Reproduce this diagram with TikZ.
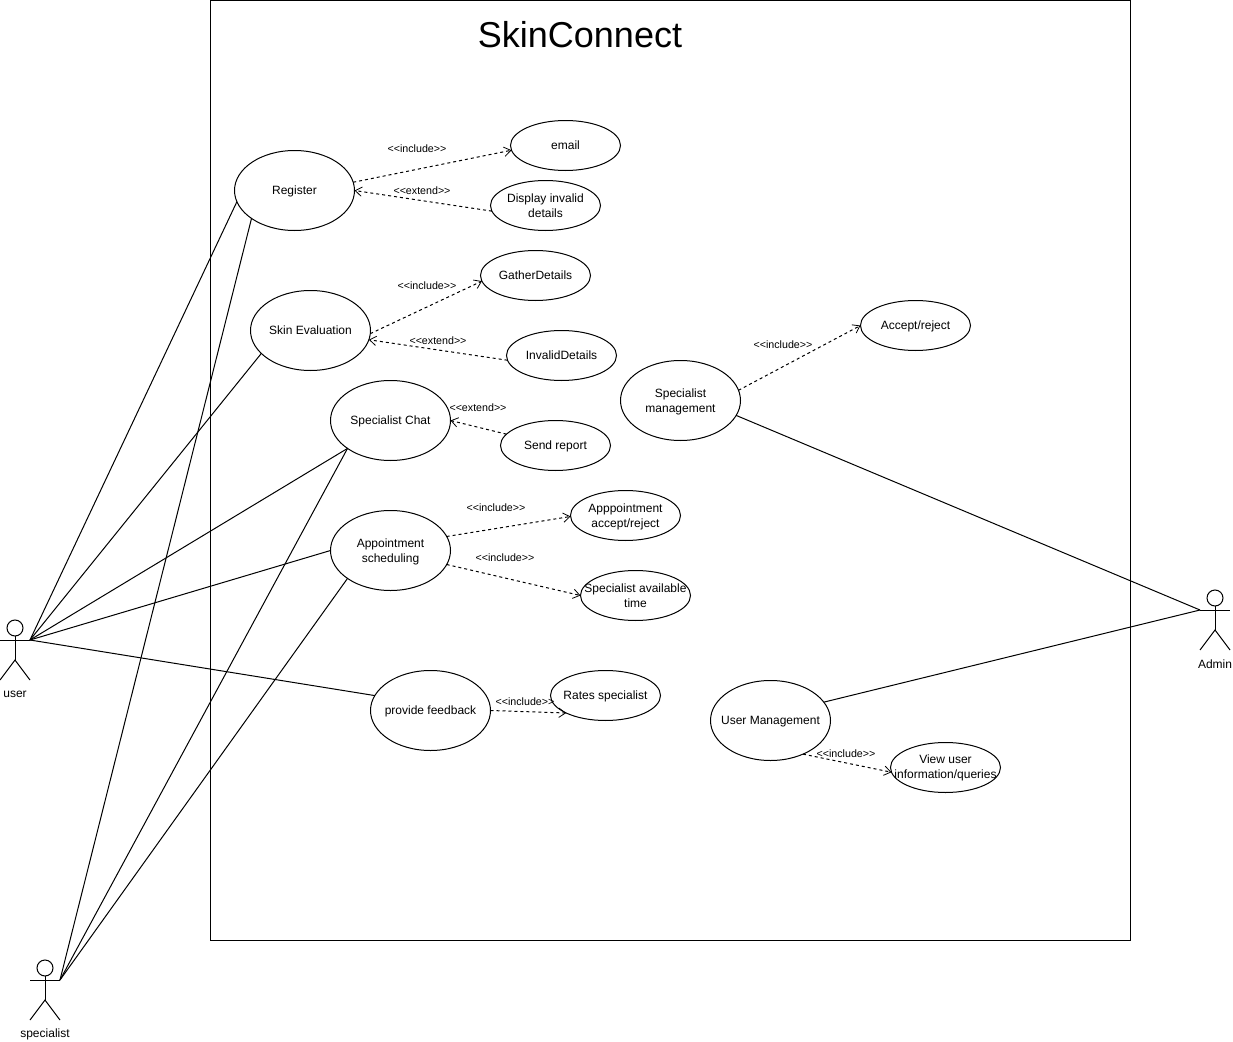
\documentclass[tikz,border=0pt]{standalone}
\usepackage{fontspec}
\setmainfont[Ligatures=NoCommon]{Liberation Sans}
\usetikzlibrary{shapes.geometric,arrows.meta}
\tikzset{
 uc/.style={draw,ellipse,inner sep=0pt,outer sep=0pt,line width=0.75pt,text=black,font=\fontsize{9}{11.25}\selectfont},
 big/.style={uc,minimum width=90pt,minimum height=60pt},
 small/.style={uc,minimum width=82.5pt,minimum height=37.5pt},
 assoc/.style={line width=0.75pt},
 dep/.style={line width=0.75pt,dash pattern=on 2.25pt off 2.25pt,-{Straight Barb[length=5pt,width=7pt,line width=0.6pt]}},
 tag/.style={font=\fontsize{8}{9}\selectfont,inner sep=0pt},
 lbl/.style={font=\fontsize{9}{11}\selectfont,inner sep=0pt},
 stick/.style={line width=0.75pt}
}
\newcommand{\ut}[1]{\makebox[0pt]{\raisebox{-3pt}[0pt][0pt]{\begin{tabular}[c]{@{}c@{}}#1\end{tabular}}}}
\newcommand{\utt}[1]{\makebox[0pt]{\raisebox{-3pt}[0pt][0pt]{\begin{tabular}[c]{@{}c@{}}#1\end{tabular}}}}
\newcommand{\utv}[1]{\makebox[0pt]{\raisebox{-2.25pt}[0pt][0pt]{\begin{tabular}[c]{@{}c@{}}#1\end{tabular}}}}
\newcommand{\inc}{<{}<include>{}>}
\newcommand{\ext}{<{}<extend>{}>}
\newcommand{\actor}[3]{%
 \draw[stick] (#2,#3-12) circle[radius=6pt];
 \draw[stick] (#2-15,#3) -- (#2+15,#3);
 \draw[stick] (#2,#3-4) -- (#2,#3+20);
 \draw[stick] (#2-15,#3+40) -- (#2,#3+20) -- (#2+15,#3+40);
 \coordinate (#1) at (#2+15,#3);
 \coordinate (#1L) at (#2-15,#3);
}
\begin{document}
\begin{tikzpicture}[x=0.75pt,y=-0.75pt]
\useasboundingbox (0,0) rectangle (1233,1042);
\fill[white] (0,0) rectangle (1233,1042);
\node[draw,line width=0.75pt,minimum width=690pt,minimum height=705pt,inner sep=0pt,anchor=north west] (sys) at (210,0) {};
\node[inner sep=0pt,font=\fontsize{27}{32}\selectfont] (title) at (580,35) {SkinConnect};

\node[big] (reg) at (294.5,190.5) {\ut{Register}};
\node[big] (skin) at (310.5,330.5) {\ut{Skin Evaluation}};
\node[big] (chat) at (390.5,420.5) {\ut{Specialist Chat}};
\node[big] (appt) at (390.5,550.5) {\utt{Appointment\\scheduling}};
\node[big] (fb) at (430.5,710.5) {\ut{provide feedback}};
\node[big] (mgmt) at (680.5,400.5) {\utt{Specialist\\management}};
\node[big] (um) at (770.5,720.5) {\ut{User Management}};

\node[small] (email) at (565.5,145.5) {\ut{email}};
\node[small] (disp) at (545.5,205.5) {\utt{Display invalid\\details}};
\node[small] (gather) at (535.5,275.5) {\ut{GatherDetails}};
\node[small] (inv) at (561.5,355.5) {\ut{InvalidDetails}};
\node[small] (send) at (555.5,445.5) {\ut{Send report}};
\node[small] (acc) at (625.5,515.5) {\utt{Apppointment\\accept/reject}};
\node[small] (avail) at (635.5,595.5) {\utt{Specialist available\\time}};
\node[small] (rates) at (605.5,695.5) {\ut{Rates specialist}};
\node[small] (ar) at (915.5,325.5) {\ut{Accept/reject}};
\node[small] (view) at (945.5,767.5) {\utv{View user\\information/queries}};

\actor{user}{15}{640}
\actor{spec}{45}{980}
\actor{admin}{1215}{610}
\node[lbl] (userl) at (15,694.5) {user};
\node[lbl] (specl) at (45,1034.5) {specialist};
\node[lbl] (adminl) at (1215,664) {Admin};

\draw[assoc] (user) -- (reg.191.4);
\draw[assoc] (user) -- (skin.205);
\draw[assoc] (user) -- (chat.213.7);
\draw[assoc] (user) -- (appt.west);
\draw[assoc] (user) -- (fb.165.5);
\draw[assoc] (spec) -- (reg.213.7);
\draw[assoc] (spec) -- (chat.213.7);
\draw[assoc] (spec) -- (appt.213.7);
\draw[assoc] (adminL) -- (mgmt.-15.4);
\draw[assoc] (adminL) -- (um.19.6);

\draw[dep] (reg.8.5) -- (email.185.2);
\draw[dep] (disp.186) -- (reg.east);
\draw[dep] (skin.-3) -- (gather.186);
\draw[dep] (inv.185) -- (skin.-9.5);
\draw[dep] (mgmt.10.7) -- (ar.west);
\draw[dep] (send.167.6) -- (chat.east);
\draw[dep] (appt.14.7) -- (acc.181);
\draw[dep] (appt.-14.7) -- (avail.west);
\draw[dep] (fb.east) -- (rates.204.8);
\draw[dep] (um.-46.7) -- (view.185);

\node[tag] (t1) at (417,149) {\inc};
\node[tag] (t2) at (422,191) {\ext};
\node[tag] (t3) at (427,286) {\inc};
\node[tag] (t4) at (438,341) {\ext};
\node[tag] (t5) at (478,408) {\ext};
\node[tag] (t6) at (783,345) {\inc};
\node[tag] (t7) at (496,508) {\inc};
\node[tag] (t8) at (505,558) {\inc};
\node[tag] (t9) at (525,702) {\inc};
\node[tag] (t10) at (846,754) {\inc};
\end{tikzpicture}
\end{document}
